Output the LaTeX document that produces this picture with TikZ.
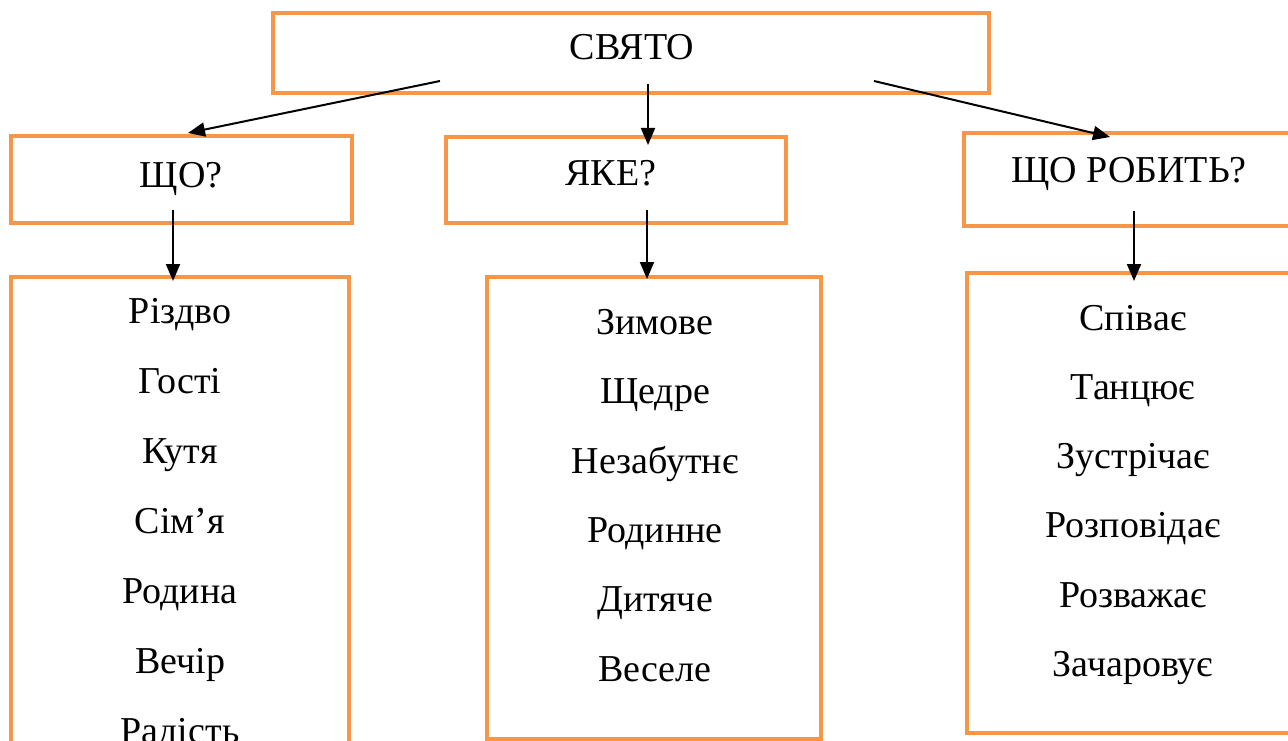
\documentclass[tikz,border=0pt]{standalone}
\usepackage{fontspec}
\setmainfont{Liberation Serif}
\usetikzlibrary{arrows.meta}
\definecolor{boxorange}{HTML}{F79646}
\begin{document}
\begin{tikzpicture}[x=1pt,y=-1pt,
  framebox/.style={draw=boxorange,line width=4pt},
  lbl/.style={font=\fontsize{38}{40}\selectfont,inner sep=0pt,anchor=center,text height=0.66em,text depth=0pt,yshift=-9pt},
  conn/.style={line width=2pt,-{Triangle[length=17pt,width=14pt]}}]
\useasboundingbox (0,0) rectangle (1288,741);
\clip (0,0) rectangle (1288,741);
% boxes
\draw[framebox] (273,13) rectangle (989,93);
\draw[framebox] (11,136) rectangle (352,223);
\draw[framebox] (446,137) rectangle (786,223);
\draw[framebox] (964,133) rectangle (1300,226);
\draw[framebox] (11,277) rectangle (349,760);
\draw[framebox] (487,277) rectangle (821,739);
\draw[framebox] (967,273) rectangle (1300,733);
% headings
\node[lbl] (top) at (632,47) {СВЯТО};
\node[lbl] (q1) at (181,175) {ЩО?};
\node[lbl] (q2) at (611,173) {ЯКЕ?};
\node[lbl] (q3) at (1129,170) {ЩО РОБИТЬ?};
% lists
\foreach \t [count=\i] in {Різдво,Гості,Кутя,Сім’я,Родина,Вечір,Радість}
  \node[lbl] (a\i) at (180,{311+70*(\i-1)}) {\t};
\foreach \t [count=\i] in {Зимове,Щедре,Незабутнє,Родинне,Дитяче,Веселе}
  \node[lbl] (b\i) at (655,{322+69.4*(\i-1)}) {\t};
\foreach \t [count=\i] in {Співає,Танцює,Зустрічає,Розповідає,Розважає,Зачаровує}
  \node[lbl] (c\i) at (1133,{318+69.2*(\i-1)}) {\t};
% connector ends
\coordinate (s1) at (440,81);
\coordinate (e1) at (188,133);
\coordinate (s2) at (648,84);
\coordinate (e2) at (648,145);
\coordinate (s3) at (874,81);
\coordinate (e3) at (1110,137);
\coordinate (d1) at (173,210);
\coordinate (f1) at (173,281);
\coordinate (d2) at (647,210);
\coordinate (f2) at (647,279);
\coordinate (d3) at (1134,211);
\coordinate (f3) at (1134,281);
\draw[conn] (s1) -- (e1);
\draw[conn] (s2) -- (e2);
\draw[conn] (s3) -- (e3);
\draw[conn] (d1) -- (f1);
\draw[conn] (d2) -- (f2);
\draw[conn] (d3) -- (f3);
\end{tikzpicture}
\end{document}
